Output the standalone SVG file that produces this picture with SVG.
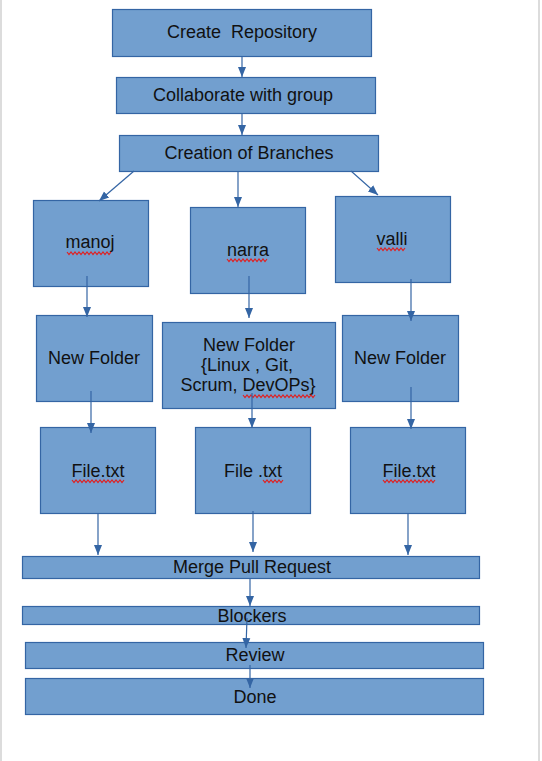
<svg xmlns="http://www.w3.org/2000/svg" width="542" height="761" viewBox="0 0 542 761">
<defs>
<marker id="ah" viewBox="0 0 10 10" refX="10" refY="5" markerWidth="10" markerHeight="10" markerUnits="userSpaceOnUse" orient="auto">
<path d="M0,1 L10,5 L0,9 Z" fill="#3465a4"/>
</marker>
<style>
.b{fill:#729fcf;stroke:#3465a4;stroke-width:1.2}
.t{font-family:"Liberation Sans",Arial,sans-serif;font-size:18px;fill:#111;text-anchor:middle;white-space:pre}
.c line{stroke:#3465a4;stroke-width:1.2;marker-end:url(#ah)}
.sq{fill:none;stroke:#e02020;stroke-width:1.2}
</style>
</defs>
<rect x="0" y="0" width="542" height="761" fill="#fff"/>
<line x1="1" y1="0" x2="1" y2="761" stroke="#d0d0d0" stroke-width="1.5"/>
<line x1="539" y1="0" x2="539" y2="761" stroke="#d0d0d0" stroke-width="1.5"/>

<g id="create"><rect class="b" x="112.5" y="9.5" width="259" height="47"/><text class="t" x="242" y="38" xml:space="preserve">Create  Repository</text></g>
<g id="collab"><rect class="b" x="116.5" y="77.5" width="259" height="36"/><text class="t" x="243" y="101">Collaborate with group</text></g>
<g id="branches"><rect class="b" x="119.5" y="135.5" width="259" height="36"/><text class="t" x="249" y="159">Creation of Branches</text></g>

<g id="manoj"><rect class="b" x="33.5" y="200.5" width="115" height="86"/><text class="t" x="90" y="248">manoj</text>
<path class="sq" d="M67,252 l2,2.5 2,-2.5 2,2.5 2,-2.5 2,2.5 2,-2.5 2,2.5 2,-2.5 2,2.5 2,-2.5 2,2.5 2,-2.5 2,2.5 2,-2.5 2,2.5 2,-2.5 2,2.5 2,-2.5 2,2.5 2,-2.5 2,2.5 2,-2.5"/></g>
<g id="narra"><rect class="b" x="190.5" y="207.5" width="115" height="86"/><text class="t" x="248" y="256">narra</text>
<path class="sq" d="M227,259 l2,2.5 2,-2.5 2,2.5 2,-2.5 2,2.5 2,-2.5 2,2.5 2,-2.5 2,2.5 2,-2.5 2,2.5 2,-2.5 2,2.5 2,-2.5 2,2.5 2,-2.5 2,2.5 2,-2.5 2,2.5 2,-2.5"/></g>
<g id="valli"><rect class="b" x="335.5" y="196.5" width="115" height="86"/><text class="t" x="392" y="245">valli</text>
<path class="sq" d="M377,248 l2,2.5 2,-2.5 2,2.5 2,-2.5 2,2.5 2,-2.5 2,2.5 2,-2.5 2,2.5 2,-2.5 2,2.5 2,-2.5 2,2.5 2,-2.5"/></g>

<g id="folder1"><rect class="b" x="36.5" y="315.5" width="116" height="86"/><text class="t" x="94" y="364">New Folder</text></g>
<g id="folder2"><rect class="b" x="162.5" y="322.5" width="173" height="86"/>
<text class="t" x="249" y="351">New Folder</text><text class="t" x="247" y="371">{Linux , Git,</text><text class="t" x="248" y="391">Scrum, DevOPs}</text>
<path class="sq" d="M243,395 l2,2.5 2,-2.5 2,2.5 2,-2.5 2,2.5 2,-2.5 2,2.5 2,-2.5 2,2.5 2,-2.5 2,2.5 2,-2.5 2,2.5 2,-2.5 2,2.5 2,-2.5 2,2.5 2,-2.5 2,2.5 2,-2.5 2,2.5 2,-2.5 2,2.5 2,-2.5 2,2.5 2,-2.5 2,2.5 2,-2.5 2,2.5 2,-2.5 2,2.5 2,-2.5 2,2.5 2,-2.5 2,2.5 2,-2.5"/></g>
<g id="folder3"><rect class="b" x="342.5" y="315.5" width="116" height="86"/><text class="t" x="400" y="364">New Folder</text></g>

<g id="file1"><rect class="b" x="40.5" y="427.5" width="115" height="86"/><text class="t" x="98" y="477">File.txt</text>
<path class="sq" d="M72,480 l2,2.5 2,-2.5 2,2.5 2,-2.5 2,2.5 2,-2.5 2,2.5 2,-2.5 2,2.5 2,-2.5 2,2.5 2,-2.5 2,2.5 2,-2.5 2,2.5 2,-2.5 2,2.5 2,-2.5 2,2.5 2,-2.5 2,2.5 2,-2.5 2,2.5 2,-2.5 2,2.5 2,-2.5"/></g>
<g id="file2"><rect class="b" x="195.5" y="427.5" width="115" height="86"/><text class="t" x="253" y="477">File .txt</text>
<path class="sq" d="M263,480 l2,2.5 2,-2.5 2,2.5 2,-2.5 2,2.5 2,-2.5 2,2.5 2,-2.5 2,2.5 2,-2.5"/></g>
<g id="file3"><rect class="b" x="350.5" y="427.5" width="115" height="86"/><text class="t" x="409" y="477">File.txt</text>
<path class="sq" d="M383,480 l2,2.5 2,-2.5 2,2.5 2,-2.5 2,2.5 2,-2.5 2,2.5 2,-2.5 2,2.5 2,-2.5 2,2.5 2,-2.5 2,2.5 2,-2.5 2,2.5 2,-2.5 2,2.5 2,-2.5 2,2.5 2,-2.5 2,2.5 2,-2.5 2,2.5 2,-2.5 2,2.5 2,-2.5"/></g>

<g id="merge"><rect class="b" x="22.5" y="556.5" width="457" height="22"/><text class="t" x="252" y="573">Merge Pull Request</text></g>
<g id="blockers"><rect class="b" x="22.5" y="606.5" width="457" height="18"/><text class="t" x="252" y="622">Blockers</text></g>
<g id="review"><rect class="b" x="25.5" y="642.5" width="458" height="26"/><text class="t" x="255" y="661">Review</text></g>
<g id="done"><rect class="b" x="25.5" y="678.5" width="458" height="36"/><text class="t" x="255" y="703">Done</text></g>

<g id="connectors" class="c">
<line x1="242" y1="56" x2="242" y2="77"/>
<line x1="242" y1="113" x2="242" y2="135"/>
<line x1="134" y1="171" x2="99" y2="201"/>
<line x1="238" y1="171" x2="238" y2="207"/>
<line x1="351" y1="171" x2="378" y2="195"/>
<line x1="87" y1="276" x2="87" y2="317"/>
<line x1="249" y1="276" x2="249" y2="318"/>
<line x1="411" y1="279" x2="411" y2="321"/>
<line x1="91" y1="391" x2="91" y2="433"/>
<line x1="252" y1="393" x2="252" y2="428"/>
<line x1="411" y1="387" x2="411" y2="429"/>
<line x1="98" y1="513" x2="98" y2="555"/>
<line x1="253" y1="511" x2="253" y2="552"/>
<line x1="408" y1="513" x2="408" y2="555"/>
<line x1="250" y1="578" x2="250" y2="606"/>
<line x1="247" y1="618" x2="246" y2="648"/>
<line x1="250" y1="665" x2="250" y2="688"/>
</g>
</svg>
